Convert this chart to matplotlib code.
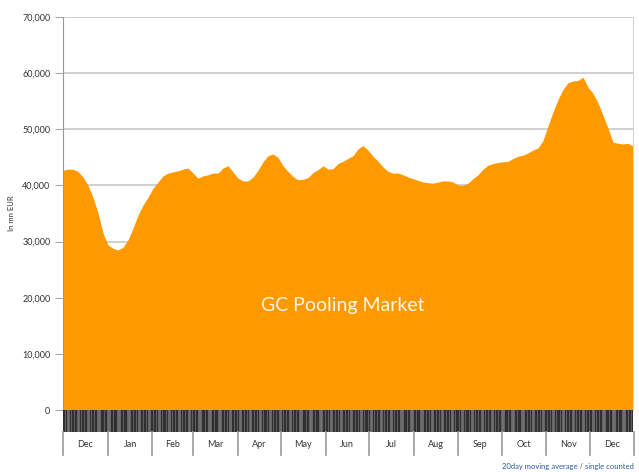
import pandas as pd
import matplotlib.pyplot as plt
import matplotlib.dates as mdates
from matplotlib.ticker import FuncFormatter

volume = [42700, 42900, 42900, 42500, 41500, 40000, 37900, 35100, 31500, 29400,
          28800, 28500, 29000, 30300, 32400, 34700, 36500, 37900, 39500, 40600,
          41700, 42200, 42400, 42600, 42900, 43100, 42200, 41300, 41700, 41900,
          42200, 42200, 43100, 43500, 42400, 41300, 40800, 40800, 41500, 42700,
          44200, 45300, 45600, 45000, 43500, 42500, 41600, 41000, 41100, 41400,
          42300, 42800, 43500, 42900, 43000, 43900, 44300, 44800, 45300, 46500,
          47100, 46300, 45200, 44300, 43300, 42500, 42200, 42200, 41900, 41500,
          41200, 40900, 40600, 40500, 40400, 40600, 40800, 40800, 40600, 40100,
          40000, 40400, 41200, 41900, 42900, 43600, 43900, 44100, 44200, 44300,
          44800, 45200, 45400, 45800, 46300, 46700, 48000, 50600, 53100, 55300,
          57100, 58300, 58600, 58700, 59300, 57500, 56400, 54700, 52500, 50200,
          47700, 47500, 47400, 47500, 47000]
start_date = '2010-12-01'
end_date = '2011-12-31'
month_names = ['Dec', 'Jan', 'Feb', 'Mar', 'Apr', 'May', 'Jun',
               'Jul', 'Aug', 'Sep', 'Oct', 'Nov', 'Dec']
y_ticks = [0, 10000, 20000, 30000, 40000, 50000, 60000, 70000]

dates = pd.date_range(start_date, end_date, periods=len(volume))
month_starts = pd.date_range(start_date, periods=len(month_names) + 1, freq='MS')
business_days = pd.bdate_range(start_date, end_date)

orange = '#ff9900'
W, H = 639, 472
fig = plt.figure(figsize=(W / 100, H / 100), dpi=100)
plt.rcParams['font.family'] = ['Lato', 'DejaVu Sans']

def box(x0, y0, x1, y1):
    return [x0 / W, 1 - y1 / H, (x1 - x0) / W, (y1 - y0) / H]

# main area chart
ax = fig.add_axes(box(63, 17, 633, 410))
ax.fill_between(dates, volume, 0, color=orange, linewidth=0, zorder=2)
ax.set_xlim(dates[0], dates[-1])
ax.set_ylim(0, 70000)
ax.set_yticks(y_ticks)
ax.yaxis.set_major_formatter(FuncFormatter(lambda v, p: f'{int(v):,}'))
ax.grid(axis='y', color='#c8c8c8', linewidth=1.2, zorder=1)
ax.tick_params(axis='y', length=6, color='#aaaaaa', labelsize=6.5,
               labelcolor='#333333', pad=3)
ax.set_xticks([])
ax.spines['top'].set_visible(False)
ax.spines['bottom'].set_visible(False)
ax.spines['left'].set_color('#999999')
ax.spines['right'].set_color('#d5d5d5')
ax.set_ylabel('In mn EUR', fontsize=5.5, color='#333333', labelpad=5)
ax.text(0.49, 0.265, 'GC Pooling Market', transform=ax.transAxes,
        ha='center', va='center', fontsize=14, color='#fff7e8', zorder=3)

# dense daily tick band under the zero line
band = fig.add_axes(box(63, 410, 633, 432))
band.set_facecolor('#6e6e6e')
for d in business_days:
    band.axvline(d, color='#303030', linewidth=0.9)
band.set_xlim(dates[0], dates[-1])
band.set_xticks([])
band.set_yticks([])
for s in band.spines.values():
    s.set_visible(False)

# month label row
months = fig.add_axes(box(63, 432, 633, 455))
months.set_xlim(dates[0], dates[-1])
months.set_ylim(0, 1)
for m in month_starts:
    months.axvline(m, color='#999999', linewidth=1.2, clip_on=False)
for i, name in enumerate(month_names):
    mid = month_starts[i] + (month_starts[i + 1] - month_starts[i]) / 2
    months.text(mdates.date2num(mid), 0.45, name, ha='center', va='center',
                fontsize=6.5, color='#333333')
months.axis('off')

fig.text(634 / W, 1 - 466 / H, '20day moving average / single counted',
         ha='right', va='center', fontsize=5.5, color='#2d5a9e')

fig.savefig('out.png', dpi=100)
